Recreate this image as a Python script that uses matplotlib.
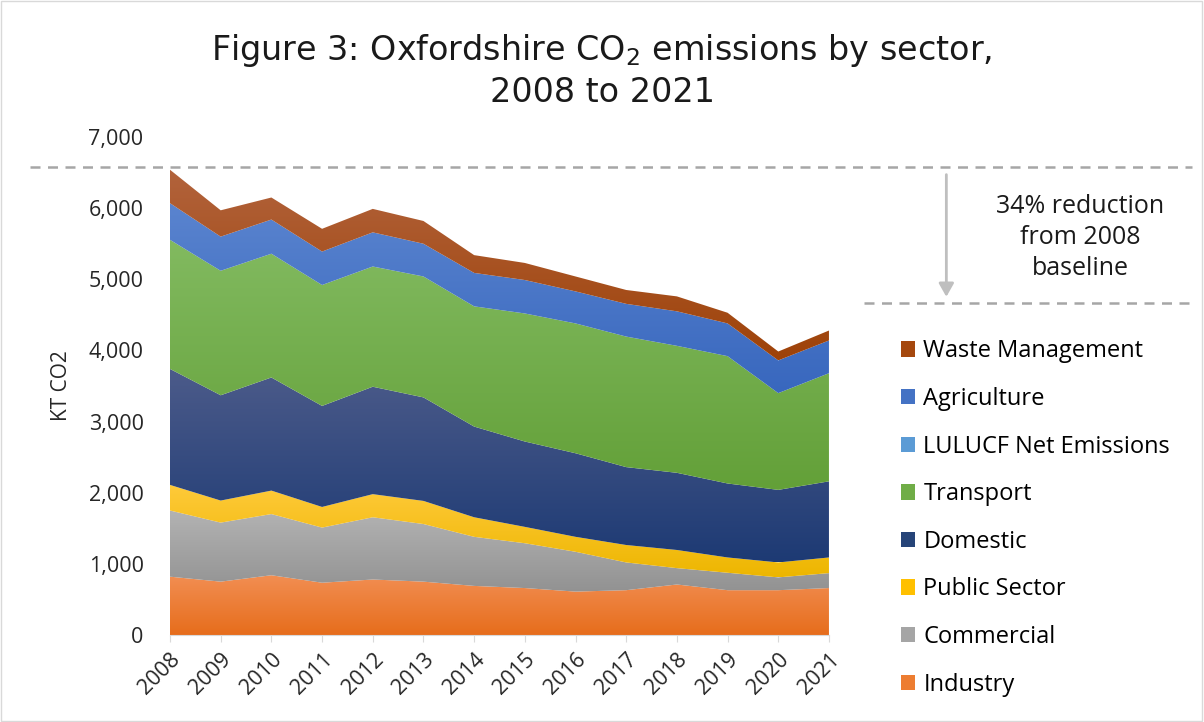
import numpy as np
import matplotlib
matplotlib.use('Agg')
import matplotlib.pyplot as plt
from matplotlib.colors import LinearSegmentedColormap
from matplotlib.patches import Patch, Rectangle
import matplotlib.transforms as mtransforms

plt.rcParams['font.family'] = ['Open Sans', 'DejaVu Sans']

years = [2008, 2009, 2010, 2011, 2012, 2013, 2014, 2015, 2016, 2017, 2018, 2019, 2020, 2021]

# kt CO2 by sector
industry = [820, 750, 840, 735, 780, 750, 690, 660, 610, 630, 710, 630, 630, 660]
commercial = [930, 830, 860, 775, 875, 810, 690, 630, 560, 390, 230, 245, 180, 210]
public_sector = [360, 310, 330, 290, 325, 325, 275, 230, 210, 245, 255, 215, 210, 220]
domestic = [1630, 1480, 1590, 1420, 1510, 1455, 1275, 1200, 1175, 1095, 1085, 1040, 1020, 1070]
transport = [1815, 1750, 1740, 1700, 1690, 1700, 1690, 1800, 1825, 1835, 1785, 1790, 1360, 1520]
lulucf = [0, 0, 0, 0, 0, 0, 0, 0, 0, 0, 0, 0, 0, 0]
agriculture = [515, 480, 480, 470, 480, 460, 470, 470, 450, 460, 485, 460, 460, 460]
waste = [470, 370, 310, 320, 330, 320, 250, 240, 210, 195, 210, 150, 125, 140]

series = [industry, commercial, public_sector, domestic, transport, lulucf, agriculture, waste]
names = ['Industry', 'Commercial', 'Public Sector', 'Domestic', 'Transport',
         'LULUCF Net Emissions', 'Agriculture', 'Waste Management']
# (top colour, bottom colour) for the excel style gradient
grads = [('#F28E52', '#E66D1C'), ('#B3B3B3', '#929292'), ('#FFCA3A', '#EDB600'),
         ('#4C5B8A', '#1D3A74'), ('#82BA60', '#63A038'), ('#6AA6DC', '#4E8FCB'),
         ('#5A84CF', '#3867BE'), ('#B2633C', '#9E4208')]
base = ['#ED7D31', '#A5A5A5', '#FFC000', '#264478', '#70AD47', '#5B9BD5', '#4472C4', '#A5480E']

fig = plt.figure(figsize=(12.04, 7.22), dpi=100)
ax = fig.add_axes([0.1412, 0.1205, 0.5473, 0.6897])

colls = ax.stackplot(years, *series, colors=base, linewidth=0)
grad = np.linspace(0, 1, 256).reshape(-1, 1)
for coll, (ctop, cbot) in zip(colls, grads):
    path = coll.get_paths()[0]
    v = path.vertices
    y0, y1 = v[:, 1].min(), v[:, 1].max()
    if y1 <= y0:
        continue
    cmap = LinearSegmentedColormap.from_list('g', [cbot, ctop])
    im = ax.imshow(grad, extent=(v[:, 0].min(), v[:, 0].max(), y0, y1), origin='lower',
                   aspect='auto', cmap=cmap, interpolation='bilinear', zorder=coll.get_zorder())
    im.set_clip_path(path, ax.transData)
    coll.set_facecolor('none')

ax.set_xlim(years[0], years[-1])
ax.set_ylim(0, 7000)
ax.set_aspect('auto')
ax.set_yticks(range(0, 7001, 1000))
ax.set_yticklabels([f'{t:,}' for t in range(0, 7001, 1000)], fontsize=15.5, color='#262626')
ax.set_xticks(years)
ax.set_xticklabels([str(y) for y in years], rotation=45, ha='right', rotation_mode='anchor',
                   fontsize=15.5, color='#262626')
ax.tick_params(axis='y', length=0, pad=19)
ax.tick_params(axis='x', length=5, color='#D9D9D9', pad=5)
for s in ['top', 'right', 'left']:
    ax.spines[s].set_visible(False)
ax.spines['bottom'].set_color('#D9D9D9')
ax.set_ylabel('KT CO2', fontsize=15, color='#262626', labelpad=12)

fig.suptitle('Figure 3: Oxfordshire CO$_2$ emissions by sector,\n2008 to 2021',
             x=0.5, y=0.955, fontsize=24, color='#1a1a1a', family='DejaVu Sans', linespacing=1.25)

# baseline annotation
total_2008 = sum(s[0] for s in series)
trans = mtransforms.blended_transform_factory(fig.transFigure, ax.transData)
ax.plot([0.025, 0.99], [total_2008 + 40] * 2, transform=trans, clip_on=False,
        color='#A6A6A6', lw=1.8, ls=(0, (4, 3)))
fig.add_artist(plt.Line2D([0.718, 0.99], [0.581, 0.581], color='#A6A6A6', lw=1.8, ls=(0, (4, 3))))
fig.add_artist(matplotlib.patches.FancyArrowPatch((0.786, 0.762), (0.786, 0.585),
               arrowstyle='-|>,head_length=8,head_width=4.5', color='#BFBFBF', lw=2,
               transform=fig.transFigure, mutation_scale=1))
fig.text(0.897, 0.671, '34% reduction\nfrom 2008\nbaseline', ha='center', va='center',
         fontsize=18, color='#1a1a1a', linespacing=1.3)

handles = [Patch(facecolor=c, edgecolor='none') for c in base]
fig.legend(handles[::-1], names[::-1], loc='upper left', bbox_to_anchor=(0.748, 0.530),
           frameon=False, fontsize=17, handlelength=0.62, handleheight=0.62,
           handletextpad=0.35, labelspacing=1.0, borderaxespad=0, borderpad=0)

fig.add_artist(Rectangle((0.001, 0.001), 0.997, 0.997, transform=fig.transFigure,
                         fill=False, edgecolor='#D9D9D9', lw=1))

fig.savefig('out.png', dpi=100)
